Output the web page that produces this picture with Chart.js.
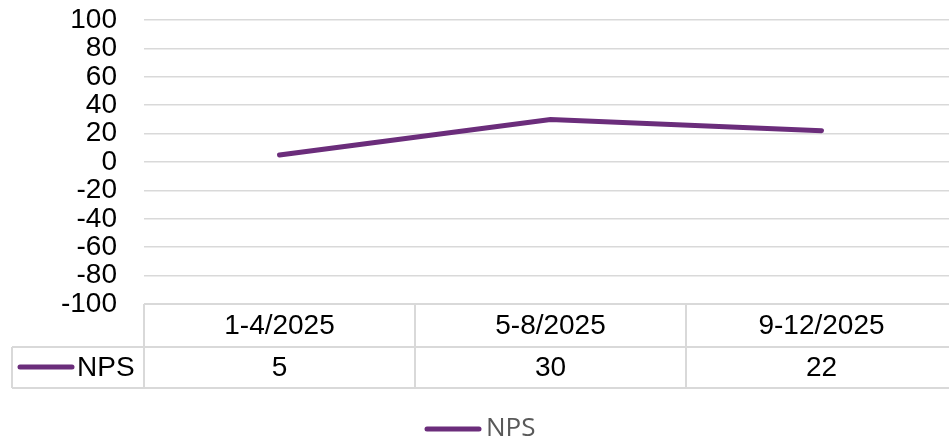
<!DOCTYPE html>
<html>
<head>
<meta charset="utf-8">
<script src="https://cdn.jsdelivr.net/npm/chart.js@4"></script>
<style>
  html, body { margin: 0; padding: 0; background: #fff; overflow: hidden; }
  #wrap { width: 960px; height: 442px; }
</style>
</head>
<body>
<div id="wrap"><canvas id="npsChart" width="960" height="442"></canvas></div>
<script>
// data
const periods   = ['1-4/2025', '5-8/2025', '9-12/2025'];
const npsValues = [5, 30, 22];
const seriesName = 'NPS';
const yTicks    = [-100, -80, -60, -40, -20, 0, 20, 40, 60, 80, 100];

const PURPLE = '#6B2D7B';
const GRID   = '#d9d9d9';
const FONT   = '"Liberation Sans", Arial, sans-serif';

// draws the data table under the plot + the bottom legend
const dataTable = {
  id: 'dataTable',
  afterDraw(chart) {
    const { ctx, chartArea: a, scales: { x } } = chart;
    const top = a.bottom, mid = 347, bot = 388, tblLeft = 12;
    const half = (x.getPixelForTick(1) - x.getPixelForTick(0)) / 2;
    ctx.save();
    ctx.strokeStyle = GRID;
    ctx.lineWidth = 2;
    ctx.beginPath();
    ctx.moveTo(a.left, top); ctx.lineTo(a.right, top);
    ctx.moveTo(tblLeft, mid); ctx.lineTo(a.right, mid);
    ctx.moveTo(tblLeft, bot); ctx.lineTo(a.right, bot);
    ctx.moveTo(tblLeft, mid); ctx.lineTo(tblLeft, bot);
    ctx.moveTo(a.left, top); ctx.lineTo(a.left, bot);
    periods.forEach((p, i) => {
      const cx = x.getPixelForTick(i) + half;
      ctx.moveTo(cx, top); ctx.lineTo(cx, bot);
    });
    ctx.stroke();

    ctx.fillStyle = '#000';
    ctx.font = '28px ' + FONT;
    ctx.textAlign = 'center';
    ctx.textBaseline = 'middle';
    periods.forEach((p, i) => {
      const cx = x.getPixelForTick(i);
      ctx.fillText(p, cx, (top + mid) / 2 + 1);
      ctx.fillText(String(npsValues[i]), cx, (mid + bot) / 2 + 1);
    });

    // row header key
    ctx.strokeStyle = PURPLE;
    ctx.lineWidth = 5;
    ctx.lineCap = 'round';
    ctx.beginPath();
    ctx.moveTo(20, 367); ctx.lineTo(72, 367);
    ctx.stroke();
    ctx.textAlign = 'left';
    ctx.fillText(seriesName, 77, 368);

    // legend
    ctx.beginPath();
    ctx.moveTo(427, 429); ctx.lineTo(479, 429);
    ctx.stroke();
    ctx.fillStyle = '#595959';
    ctx.font = '26px "Open Sans", sans-serif';
    ctx.fillText(seriesName, 486, 429);
    ctx.restore();
  }
};

new Chart(document.getElementById('npsChart'), {
  type: 'line',
  data: {
    labels: periods,
    datasets: [{
      label: seriesName,
      data: npsValues,
      borderColor: PURPLE,
      backgroundColor: PURPLE,
      borderWidth: 5,
      borderCapStyle: 'round',
      pointRadius: 0,
      tension: 0
    }]
  },
  options: {
    responsive: false,
    animation: false,
    layout: { padding: { top: 20, bottom: 138, left: 0, right: 3 } },
    plugins: { legend: { display: false }, tooltip: { enabled: false } },
    scales: {
      x: { display: false, offset: true },
      y: {
        min: -100,
        max: 100,
        afterFit: s => { s.width = 144; s.paddingTop = 0; s.paddingBottom = 0; },
        afterBuildTicks: s => { s.ticks = yTicks.map(v => ({ value: v })); },
        grid: { color: GRID, lineWidth: 1.5, drawTicks: false },
        border: { display: false },
        ticks: {
          autoSkip: false,
          padding: 27,
          color: '#000',
          font: { size: 28, family: FONT, lineHeight: 1 }
        }
      }
    }
  },
  plugins: [dataTable]
});
</script>
</body>
</html>
